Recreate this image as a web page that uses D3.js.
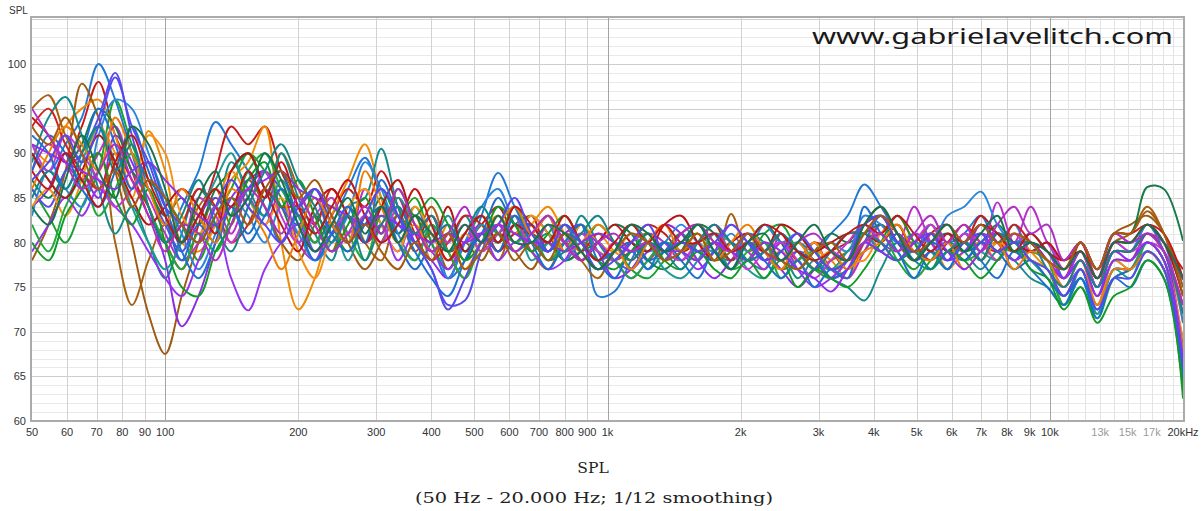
<!DOCTYPE html>
<html>
<head>
<meta charset="utf-8">
<script src="https://cdn.jsdelivr.net/npm/d3@7"></script>
<style>
  html, body { margin: 0; padding: 0; background: #ffffff; }
  svg { display: block; }
</style>
</head>
<body>
<svg id="chart" width="1201" height="511"></svg>
<script>
// Measurement frequencies (1/8 octave steps from 50 Hz, last point 20 kHz)
const freqs = [50, 54.5, 59.5, 64.8, 70.7, 77.1, 84.1, 91.7, 100, 109,
  119, 130, 141, 154, 168, 183, 200, 218, 238, 259,
  283, 308, 336, 367, 400, 436, 476, 519, 566, 617,
  673, 734, 800, 872, 951, 1037, 1131, 1234, 1345, 1467,
  1600, 1745, 1903, 2075, 2263, 2468, 2691, 2935, 3200, 3490,
  3806, 4150, 4525, 4935, 5382, 5869, 6400, 6979, 7611, 8300,
  9051, 9870, 10763, 11738, 12800, 13959, 15222, 16600, 18102, 20000];

// SPL (dB) per measurement position
const spl01 = [90, 88, 91, 94, 100, 96, 90, 84, 80, 84,
  88, 93.5, 91, 88, 84, 80, 83, 79, 82, 86,
  89.5, 85, 81, 84, 80, 76, 78, 83, 87.8, 84,
  81, 83, 79, 82, 74, 74.5, 78, 81, 79, 80,
  82, 79, 78, 81, 80, 78, 80, 79, 81, 83,
  86.5, 84, 81, 79, 82, 80, 81, 83, 80, 82,
  79, 80, 76, 79, 75, 80, 79, 82, 79, 72];
const spl02 = [94, 92, 89, 93, 98, 92, 88, 83, 80, 77,
  82, 88, 93, 91, 93, 88, 84, 80, 83, 86,
  84, 88, 84, 80, 83, 79, 80, 82, 84, 81,
  83, 79, 81, 78, 80, 78, 80, 82, 81, 79,
  80, 82, 79, 80, 78, 80, 79, 77, 79, 80,
  82, 83, 80, 78, 81, 82, 80, 83, 81, 80,
  80, 78, 76, 79, 75, 80, 80, 82, 80, 77];
const spl03 = [86, 83, 80, 84, 88, 96, 91, 87, 85, 82,
  78, 83, 86, 90, 88, 85, 81, 86, 82, 79,
  83, 86, 83, 85, 80, 77, 80, 83, 81, 84,
  81, 80, 78, 79, 82, 80, 77, 76, 78, 80,
  81, 79, 77, 78, 81, 82, 79, 77, 76, 78,
  79, 82, 79, 77, 79, 78, 80, 78, 80, 79,
  78, 77, 73, 76, 72, 77, 77, 79, 77, 62.5];
const spl04 = [91, 89, 93, 95, 96, 92, 86, 92.5, 88, 80,
  79, 82, 87, 89, 93, 80, 72.5, 76, 83, 87,
  91, 85, 80, 83, 78, 82, 79, 81, 83, 80,
  82, 84, 81, 79, 81, 79, 78, 80, 79, 81,
  78, 80, 79, 81, 78, 79, 77, 79, 78, 76,
  80, 82, 80, 78, 80, 77, 79, 80, 78, 81,
  79, 77, 75, 78, 74, 78, 78, 81, 79, 71];
const spl05 = [95, 96.5, 92, 89, 90, 80, 73, 78, 82, 80,
  84, 86, 82, 88, 85, 90, 86, 82, 79, 84,
  80, 78, 83, 81, 84, 79, 76, 80, 78, 82,
  79, 77, 80, 78, 76, 79, 80, 78, 80, 79,
  80, 78, 83.2, 79, 80, 78, 79, 77, 78, 79,
  81, 83, 80, 79, 81, 80, 79, 81, 79, 80,
  80, 78, 77, 79, 76, 80, 81, 84, 81, 74];
const spl06 = [78, 82, 88, 97.8, 94, 88, 80, 72, 67.5, 74,
  80, 85, 83, 87, 84, 80, 78, 82, 85, 80,
  77, 80, 83, 79, 81, 77, 80, 78, 81, 79,
  77, 80, 78, 80, 79, 78, 79, 80, 78, 80,
  79, 80, 78, 80, 79, 77, 78, 80, 77, 78,
  82, 84, 81, 80, 82, 79, 80, 82, 80, 79,
  81, 79, 77, 80, 77, 81, 82, 83, 81, 75];
const spl07 = [89, 94, 96.3, 92, 86, 81, 84, 80, 76, 81,
  86, 84, 89, 86, 83, 90, 85, 81, 78, 84,
  85, 90.5, 84, 80, 82, 80, 83, 80, 82, 84,
  80, 81, 79, 83, 80, 78, 80, 77, 79, 81,
  79, 78, 80, 78, 77, 79, 76, 78, 76, 75,
  73.5, 77, 80, 78, 77, 80, 79, 77, 79, 78,
  76, 75, 73, 77, 73, 78, 77, 79, 77, 69];
const spl08 = [84, 86, 90, 88, 85, 92, 89, 84, 78, 70.6,
  74, 80, 85, 87, 88, 86, 84, 86, 82, 80,
  83, 81, 85, 80, 78, 76, 80, 82, 79, 81,
  80, 79, 81, 82, 79, 76, 77, 80, 82, 81,
  78, 76, 78, 80, 79, 77, 75, 77, 79, 78,
  81, 79, 81, 79, 78, 81, 79, 82, 80, 78,
  80, 78, 76, 78, 74, 79, 78, 81, 79, 68];
const spl09 = [88, 91, 89, 87, 90, 93, 88, 85, 81, 78,
  80, 84, 81, 85, 82, 86, 80, 78, 82, 80,
  86, 82, 79, 83, 81, 78, 80, 82, 80, 82,
  81, 79, 82, 80, 78, 80, 79, 81, 80, 78,
  80, 82, 80, 79, 77, 81, 78, 80, 77, 76,
  79, 82, 80, 84, 80, 78, 81, 79, 84.5, 80,
  84, 80, 78, 80, 76, 81, 80, 81, 80, 75.8];
const spl10 = [87, 85, 88, 91, 95, 93, 88, 86, 83, 85,
  82, 86, 88, 90, 86, 84, 80, 83, 81, 84,
  82, 85, 81, 83, 79, 81, 78, 81, 80, 82,
  83, 81, 78, 79, 80, 82, 81, 78, 77, 79,
  82, 81, 78, 80, 82, 80, 77, 79, 81, 80,
  81, 82, 80, 78, 80, 81, 79, 80, 82, 80,
  80, 79, 77, 80, 77, 81, 81, 86.2, 86, 80.2];
const spl11 = [86, 84, 88, 90, 94, 99, 92, 86, 82, 79,
  83, 85, 83, 86, 88, 84, 82, 85, 81, 83,
  80, 84, 82, 80, 77, 73, 73.5, 79, 82, 80,
  82, 79, 81, 78, 80, 78, 77, 79, 80, 79,
  78, 80, 79, 81, 79, 77, 79, 78, 76, 77,
  80, 83, 81, 78, 79, 80, 78, 80, 81, 79,
  79, 78, 75, 77, 73, 77, 77, 80, 78, 66];
const spl12 = [83, 88, 86, 84, 92, 96, 95, 90, 85, 81,
  77, 81, 85, 83, 80, 84, 81, 78, 80, 83,
  89, 86, 81, 78, 82, 76, 80, 84, 86, 82,
  80, 82, 78, 80, 78, 79, 81, 79, 80, 82,
  80, 79, 81, 79, 82, 80, 81, 79, 80, 79,
  83, 82, 80, 81, 80, 83, 84, 85.7, 82, 80,
  81, 79, 77, 79, 75, 79, 79, 82, 80, 71];
const spl13 = [93, 95, 91, 88, 86, 90, 87, 84, 80, 82,
  86, 84, 80, 82, 86, 84, 84, 82, 86, 83,
  80, 82, 85, 81, 78, 80, 83, 82, 79, 81,
  81, 80, 82, 79, 81, 80, 78, 80, 79, 81,
  82, 80, 78, 80, 79, 81, 78, 80, 79, 77,
  80, 81, 83, 80, 78, 80, 82, 80, 79, 82,
  80, 78, 76, 80, 76, 79, 79, 81, 79, 73];
const spl14 = [84, 86, 83, 87, 93, 90, 85, 92, 90, 83,
  81, 84, 88, 85, 82, 85, 79, 76, 81, 84,
  86, 82, 79, 84, 81, 78, 81, 79, 83, 81,
  83, 81, 79, 82, 80, 79, 81, 80, 78, 80,
  79, 81, 80, 78, 80, 79, 78, 80, 77, 78,
  78, 81, 82, 79, 81, 79, 80, 78, 80, 79,
  78, 77, 74, 77, 73, 78, 77, 80, 78, 69];
const spl15 = [90, 87, 85, 89, 93, 89, 84, 80, 77, 80,
  83, 87, 90, 85, 83, 87, 83, 80, 82, 78,
  82, 80, 85, 82, 80, 83, 79, 82, 80, 83,
  78, 80, 82, 79, 77, 79, 82, 80, 77, 76,
  78, 81, 80, 77, 76, 79, 80, 78, 77, 79,
  81, 79, 78, 80, 79, 77, 80, 79, 78, 80,
  78, 76, 74, 77, 72, 77, 76, 80, 78, 67];
const spl16 = [79, 82, 85, 83, 86, 84, 82, 79, 76, 74,
  78, 82, 76, 72.4, 77, 80, 82, 79, 81, 83,
  80, 82, 78, 81, 79, 77, 80, 81, 78, 80,
  79, 77, 78, 81, 80, 78, 76, 78, 80, 79,
  77, 79, 82, 80, 78, 80, 77, 75, 76, 78,
  82, 80, 79, 81, 80, 78, 79, 81, 80, 78,
  79, 78, 76, 79, 75, 79, 78, 80, 78, 68];
const spl17 = [82, 79, 84, 87, 83, 86, 90, 84, 80, 77,
  81, 79, 83, 88, 90, 86, 83, 80, 84, 81,
  78, 83, 80, 78, 82, 79, 76, 80, 82, 80,
  81, 78, 80, 82, 79, 78, 76, 78, 80, 79,
  78, 80, 77, 79, 80, 76, 78, 79, 77, 78,
  80, 81, 78, 76, 78, 80, 78, 79, 81, 79,
  79, 78, 73, 75, 71.5, 76, 77, 80, 78, 64];
const spl18 = [91, 88, 92, 90, 87, 84, 86, 89, 84, 80,
  85, 83, 80, 84, 88, 83, 80, 83, 85, 81,
  83, 80, 84, 81, 83, 80, 82, 79, 81, 83,
  79, 82, 80, 81, 79, 78, 80, 81, 79, 78,
  80, 81, 79, 77, 79, 80, 78, 76, 78, 80,
  82, 80, 78, 80, 82, 79, 81, 80, 78, 81,
  79, 80, 77, 79, 75, 80, 79, 80, 79, 72];
const spl19 = [88, 92, 90, 86, 84, 88, 93, 88, 83, 78,
  82, 80, 84, 81, 85, 88, 83, 85, 81, 79,
  82, 84, 80, 77, 80, 82, 79, 81, 85, 82,
  82, 79, 81, 80, 78, 79, 80, 78, 79, 80,
  79, 78, 80, 78, 79, 81, 79, 78, 76, 77,
  80, 79, 81, 78, 80, 79, 78, 80, 79, 77,
  78, 76, 74, 76, 72.5, 76, 77, 79, 77, 64.5];
const spl20 = [90, 87, 85, 88, 92, 89, 85, 82, 84, 86,
  84, 81, 88, 90, 86, 82, 79, 84, 86, 83,
  80, 84, 87, 82, 80, 84, 79, 81, 79, 82,
  81, 83, 80, 78, 80, 82, 80, 79, 82, 83,
  80, 78, 80, 81, 79, 82, 81, 79, 80, 81,
  81, 80, 82, 79, 81, 79, 80, 78, 81, 80,
  79, 80, 78, 79, 76, 80, 80, 82, 80, 74];
const spl21 = [92, 90, 86, 90, 95, 91, 86, 89, 84, 79,
  76, 80, 84, 80, 83, 86, 82, 78, 81, 84,
  80, 87, 83, 79, 76, 74, 78, 81, 79, 83,
  80, 77, 80, 82, 78, 76, 79, 77, 80, 78,
  76, 79, 77, 80, 78, 76, 78, 75, 77, 76,
  84, 81, 79, 76, 79, 77, 80, 78, 76, 79,
  77, 75, 73, 76, 71.5, 76, 75, 78, 76, 65];
const spl22 = [80, 78, 83, 86, 90, 85, 82, 86, 80, 75,
  74, 79, 82, 87, 89, 84, 87, 83, 79, 82,
  85, 81, 86, 83, 85, 82, 78, 80, 84, 82,
  79, 81, 83, 80, 78, 77, 79, 81, 78, 77,
  79, 77, 76, 78, 76, 78, 75, 77, 76, 75,
  77, 80, 83, 80, 77, 79, 78, 76, 78, 80,
  77, 76, 72.5, 75, 71, 74, 75, 78, 76, 63.5];
const spl23 = [86, 90, 93, 91, 88, 94, 90, 86, 82, 86,
  83, 80, 86, 84, 81, 77, 81, 85, 82, 80,
  88, 84, 80, 82, 79, 81, 77, 80, 82, 84,
  81, 83, 79, 80, 82, 80, 77, 80, 82, 79,
  81, 78, 80, 82, 79, 77, 80, 78, 79, 77,
  79, 80, 82, 79, 78, 80, 77, 79, 80, 77,
  79, 78, 75, 78, 73, 77, 77, 79, 77, 68];
const spl24 = [91, 90, 89, 88, 87, 86, 88, 89, 87, 85,
  83, 82, 84, 86, 87, 88, 86, 85, 84, 83,
  82, 83, 82, 81, 80, 81, 80, 81, 82, 81,
  80, 80, 79, 80, 81, 80, 79, 80, 79, 79,
  78, 80, 79, 78, 80, 79, 77, 76, 74.5, 77,
  80, 79, 78, 80, 81, 79, 77, 79, 81, 80,
  80, 79, 76, 78, 74, 78, 78, 80, 78, 67];
const spl25 = [85, 88, 86, 90, 93, 88, 91, 84, 80, 83,
  87, 82, 79, 84, 88, 91, 87, 84, 80, 83,
  78, 82, 84, 81, 83, 79, 81, 84, 81, 79,
  80, 78, 79, 81, 83, 80, 78, 80, 79, 77,
  80, 82, 80, 78, 79, 81, 79, 77, 79, 81,
  81, 80, 78, 79, 77, 79, 80, 78, 81, 80,
  80, 77, 75, 78, 75, 79, 79, 81, 79, 72];
const spl26 = [88, 86, 90, 87, 84, 89, 92, 87, 83, 80,
  83, 86, 84, 88, 85, 89, 84, 81, 84, 87,
  83, 80, 82, 86, 82, 78, 81, 83, 80, 84,
  82, 80, 83, 80, 78, 80, 82, 80, 82, 80,
  80, 81, 79, 80, 82, 81, 79, 78, 79, 81,
  82, 81, 83, 81, 79, 81, 80, 82, 81, 79,
  81, 79, 78, 80, 77, 81, 81, 82, 81, 76];
const spl27 = [87, 89, 92, 89, 93, 98.5, 93, 89, 84, 82,
  80, 84, 87, 84, 82, 80, 84, 86, 83, 80,
  83, 86, 83, 80, 77, 72.5, 76, 80, 82, 85,
  81, 79, 82, 80, 77, 78, 80, 82, 79, 80,
  79, 80, 82, 80, 78, 79, 81, 79, 77, 78,
  82, 83, 80, 79, 81, 78, 80, 81, 79, 80,
  78, 77, 74, 77, 72.5, 76, 76, 79, 77, 66];
const spl28 = [95, 92, 89, 86, 88, 91, 87, 83, 79, 82,
  81, 78, 82, 86, 84, 81, 85, 82, 79, 81,
  84, 81, 86, 82, 79, 81, 84, 80, 82, 79,
  81, 83, 80, 78, 80, 81, 79, 80, 78, 81,
  82, 80, 79, 81, 79, 78, 80, 81, 79, 78,
  80, 81, 79, 81, 83, 80, 82, 79, 82, 84,
  81, 82, 78, 80, 77, 81, 80, 81, 79, 73];
const spl29 = [93, 91, 94, 90, 86, 88, 84, 87, 85, 82,
  80, 83, 85, 82, 86, 88, 85, 87, 83, 80,
  82, 79, 77, 80, 78, 81, 77, 79, 81, 78,
  80, 78, 81, 79, 77, 79, 81, 80, 78, 79,
  81, 78, 79, 81, 79, 78, 77, 79, 80, 78,
  81, 83, 81, 79, 80, 82, 80, 82, 80, 81,
  80, 78, 77, 80, 77, 81, 81, 83.5, 81, 74];
const spl30 = [84, 82, 87, 92, 88, 85, 93, 91, 86, 80,
  85, 88, 83, 85, 90, 87, 82, 79, 82, 85,
  81, 84, 80, 83, 81, 79, 82, 80, 83, 80,
  80, 82, 81, 79, 77, 79, 82, 81, 79, 80,
  82, 79, 77, 80, 81, 78, 80, 82, 79, 78,
  82, 84, 81, 78, 80, 82, 79, 81, 83, 79,
  80, 79, 77, 79, 76, 80, 80, 82, 80, 76];

// One colour per trace, in the same order as the arrays above
const traceColors = ["#1f78d6", "#c41a1a", "#17a12d", "#f08a00", "#a8600e",
  "#9c5a12", "#168a8a", "#8a2be6", "#b52fcb", "#177a47",
  "#5a4ae8", "#2a86dc", "#d02020", "#f59216", "#1c9a94",
  "#9533f2", "#22a83c", "#c23bd2", "#1f6cc6", "#b51414",
  "#1a70d0", "#0f9a26", "#ee7d05", "#8d2ef0", "#148585",
  "#c01616", "#5548f0", "#b02ec4", "#a35c0e", "#16724a"];

// Axis ticks
const yTicks = [60, 65, 70, 75, 80, 85, 90, 95, 100];
const xTicks = [50, 60, 70, 80, 90, 100, 200, 300, 400, 500, 600, 700, 800, 900,
  1000, 2000, 3000, 4000, 5000, 6000, 7000, 8000, 9000, 10000, 13000, 15000, 17000, 20000];
const xTickLabels = ["50", "60", "70", "80", "90", "100", "200", "300", "400", "500",
  "600", "700", "800", "900", "1k", "2k", "3k", "4k", "5k", "6k", "7k", "8k", "9k",
  "10k", "13k", "15k", "17k", "20kHz"];
const xTicksFaint = [13000, 15000, 17000];
const gridMid = [60, 70, 80, 90, 200, 300, 400, 500, 600, 700, 800, 900,
  2000, 3000, 4000, 5000, 6000, 7000, 8000, 9000];
const gridMajor = [100, 1000, 10000];
const gridHigh = [11000, 12000, 13000, 14000, 15000, 16000, 17000, 18000, 19000];

const traces = [spl01, spl02, spl03, spl04, spl05, spl06, spl07, spl08, spl09, spl10,
  spl11, spl12, spl13, spl14, spl15, spl16, spl17, spl18, spl19, spl20,
  spl21, spl22, spl23, spl24, spl25, spl26, spl27, spl28, spl29, spl30];

const svg = d3.select("#chart");
const plot = { left: 31, top: 17, right: 1184, bottom: 421 };

const x = d3.scaleLog().domain([50, 20000]).range([32, 1183]);
const y = d3.scaleLinear().domain([60, 100]).range([421, 64]);
const yTop = y.invert(plot.top);

svg.append("rect").attr("width", 1201).attr("height", 511).attr("fill", "#ffffff");
svg.append("rect")
  .attr("x", plot.left).attr("y", plot.top)
  .attr("width", plot.right - plot.left).attr("height", plot.bottom - plot.top)
  .attr("fill", "#ffffff");

// Horizontal grid: 1 dB minor, 5 dB major
const grid = svg.append("g");
const dbLines = d3.range(61, Math.floor(yTop) + 1);
grid.selectAll("line.h").data(dbLines).join("line")
  .attr("x1", plot.left).attr("x2", plot.right)
  .attr("y1", d => Math.round(y(d)) + 0.5).attr("y2", d => Math.round(y(d)) + 0.5)
  .attr("stroke", d => d % 5 === 0 ? "#cdcdcd" : "#e9e9e9")
  .attr("stroke-width", 1);

// Vertical grid
function vlines(data, color) {
  grid.append("g").selectAll("line").data(data).join("line")
    .attr("x1", d => Math.round(x(d)) + 0.5).attr("x2", d => Math.round(x(d)) + 0.5)
    .attr("y1", plot.top).attr("y2", plot.bottom)
    .attr("stroke", color).attr("stroke-width", 1);
}
vlines(gridHigh, "#e4e4e4");
vlines(gridMid, "#d2d2d2");
vlines(gridMajor, "#a4a4a4");

// Traces
svg.append("clipPath").attr("id", "plotClip")
  .append("rect").attr("x", plot.left).attr("y", plot.top)
  .attr("width", plot.right - plot.left).attr("height", plot.bottom - plot.top);

const line = d3.line()
  .x((d, i) => x(freqs[i]))
  .y(d => y(d))
  .curve(d3.curveCatmullRom.alpha(0.5));

svg.append("g").attr("clip-path", "url(#plotClip)")
  .selectAll("path").data(traces).join("path")
  .attr("d", d => line(d))
  .attr("fill", "none")
  .attr("stroke", (d, i) => traceColors[i])
  .attr("stroke-width", 1.9)
  .attr("stroke-linejoin", "round");

// Frame
svg.append("rect")
  .attr("x", plot.left).attr("y", plot.top)
  .attr("width", plot.right - plot.left).attr("height", plot.bottom - plot.top)
  .attr("fill", "none").attr("stroke", "#ababab").attr("stroke-width", 2);

// Axis labels
const tickFont = "'Liberation Sans', Arial, sans-serif";
svg.append("g").selectAll("text").data(yTicks).join("text")
  .attr("x", 26).attr("y", d => y(d) + 4)
  .attr("text-anchor", "end")
  .attr("font-family", tickFont).attr("font-size", 11).attr("fill", "#333")
  .text(d => d);

svg.append("text").attr("x", 9).attr("y", 14)
  .attr("font-family", tickFont).attr("font-size", 10).attr("fill", "#333")
  .text("SPL");

svg.append("g").selectAll("text").data(xTicks).join("text")
  .attr("x", d => x(d)).attr("y", 436)
  .attr("text-anchor", "middle")
  .attr("font-family", tickFont).attr("font-size", 11)
  .attr("fill", d => xTicksFaint.includes(d) ? "#9a9a9a" : "#333")
  .text((d, i) => xTickLabels[i]);

// Site mark
svg.append("text")
  .attr("x", 1173).attr("y", 44)
  .attr("text-anchor", "end")
  .attr("font-family", "'Noto Sans', sans-serif").attr("font-size", 21)
  .attr("fill", "#1a1a1a")
  .attr("textLength", 361).attr("lengthAdjust", "spacingAndGlyphs")
  .text("www.gabrielavelitch.com");

// Caption
const capFont = "'DejaVu Serif', 'Liberation Serif', serif";
svg.append("text")
  .attr("x", 593).attr("y", 473)
  .attr("text-anchor", "middle")
  .attr("font-family", capFont).attr("font-size", 15.5).attr("fill", "#222")
  .text("SPL");
svg.append("text")
  .attr("x", 594).attr("y", 503)
  .attr("text-anchor", "middle")
  .attr("font-family", capFont).attr("font-size", 15.5).attr("fill", "#222")
  .attr("textLength", 358).attr("lengthAdjust", "spacingAndGlyphs")
  .text("(50 Hz - 20.000 Hz; 1/12 smoothing)");
</script>
</body>
</html>
